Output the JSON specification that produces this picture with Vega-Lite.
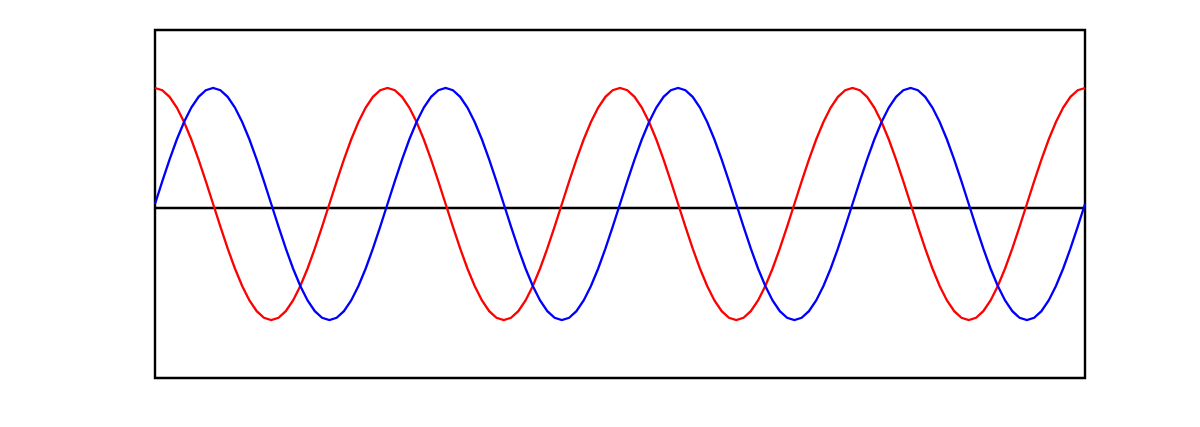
{
  "$schema": "https://vega.github.io/schema/vega-lite/v6.json",
  "width": 930,
  "height": 348,
  "autosize": {"type": "none"},
  "padding": {"left": 155, "top": 30, "right": 115, "bottom": 49},
  "background": "white",
  "config": {"view": {"stroke": "black", "strokeWidth": 2.4}},
  "datasets": {
    "waves": [
      {"k":0,"s":0,"c":1},{"k":1,"s":0.195,"c":0.981},{"k":2,"s":0.383,"c":0.924},{"k":3,"s":0.556,"c":0.831},{"k":4,"s":0.707,"c":0.707},{"k":5,"s":0.831,"c":0.556},{"k":6,"s":0.924,"c":0.383},{"k":7,"s":0.981,"c":0.195},
      {"k":8,"s":1,"c":0},{"k":9,"s":0.981,"c":-0.195},{"k":10,"s":0.924,"c":-0.383},{"k":11,"s":0.831,"c":-0.556},{"k":12,"s":0.707,"c":-0.707},{"k":13,"s":0.556,"c":-0.831},{"k":14,"s":0.383,"c":-0.924},{"k":15,"s":0.195,"c":-0.981},
      {"k":16,"s":0,"c":-1},{"k":17,"s":-0.195,"c":-0.981},{"k":18,"s":-0.383,"c":-0.924},{"k":19,"s":-0.556,"c":-0.831},{"k":20,"s":-0.707,"c":-0.707},{"k":21,"s":-0.831,"c":-0.556},{"k":22,"s":-0.924,"c":-0.383},{"k":23,"s":-0.981,"c":-0.195},
      {"k":24,"s":-1,"c":0},{"k":25,"s":-0.981,"c":0.195},{"k":26,"s":-0.924,"c":0.383},{"k":27,"s":-0.831,"c":0.556},{"k":28,"s":-0.707,"c":0.707},{"k":29,"s":-0.556,"c":0.831},{"k":30,"s":-0.383,"c":0.924},{"k":31,"s":-0.195,"c":0.981},
      {"k":32,"s":0,"c":1},{"k":33,"s":0.195,"c":0.981},{"k":34,"s":0.383,"c":0.924},{"k":35,"s":0.556,"c":0.831},{"k":36,"s":0.707,"c":0.707},{"k":37,"s":0.831,"c":0.556},{"k":38,"s":0.924,"c":0.383},{"k":39,"s":0.981,"c":0.195},
      {"k":40,"s":1,"c":0},{"k":41,"s":0.981,"c":-0.195},{"k":42,"s":0.924,"c":-0.383},{"k":43,"s":0.831,"c":-0.556},{"k":44,"s":0.707,"c":-0.707},{"k":45,"s":0.556,"c":-0.831},{"k":46,"s":0.383,"c":-0.924},{"k":47,"s":0.195,"c":-0.981},
      {"k":48,"s":0,"c":-1},{"k":49,"s":-0.195,"c":-0.981},{"k":50,"s":-0.383,"c":-0.924},{"k":51,"s":-0.556,"c":-0.831},{"k":52,"s":-0.707,"c":-0.707},{"k":53,"s":-0.831,"c":-0.556},{"k":54,"s":-0.924,"c":-0.383},{"k":55,"s":-0.981,"c":-0.195},
      {"k":56,"s":-1,"c":0},{"k":57,"s":-0.981,"c":0.195},{"k":58,"s":-0.924,"c":0.383},{"k":59,"s":-0.831,"c":0.556},{"k":60,"s":-0.707,"c":0.707},{"k":61,"s":-0.556,"c":0.831},{"k":62,"s":-0.383,"c":0.924},{"k":63,"s":-0.195,"c":0.981},
      {"k":64,"s":0,"c":1},{"k":65,"s":0.195,"c":0.981},{"k":66,"s":0.383,"c":0.924},{"k":67,"s":0.556,"c":0.831},{"k":68,"s":0.707,"c":0.707},{"k":69,"s":0.831,"c":0.556},{"k":70,"s":0.924,"c":0.383},{"k":71,"s":0.981,"c":0.195},
      {"k":72,"s":1,"c":0},{"k":73,"s":0.981,"c":-0.195},{"k":74,"s":0.924,"c":-0.383},{"k":75,"s":0.831,"c":-0.556},{"k":76,"s":0.707,"c":-0.707},{"k":77,"s":0.556,"c":-0.831},{"k":78,"s":0.383,"c":-0.924},{"k":79,"s":0.195,"c":-0.981},
      {"k":80,"s":0,"c":-1},{"k":81,"s":-0.195,"c":-0.981},{"k":82,"s":-0.383,"c":-0.924},{"k":83,"s":-0.556,"c":-0.831},{"k":84,"s":-0.707,"c":-0.707},{"k":85,"s":-0.831,"c":-0.556},{"k":86,"s":-0.924,"c":-0.383},{"k":87,"s":-0.981,"c":-0.195},
      {"k":88,"s":-1,"c":0},{"k":89,"s":-0.981,"c":0.195},{"k":90,"s":-0.924,"c":0.383},{"k":91,"s":-0.831,"c":0.556},{"k":92,"s":-0.707,"c":0.707},{"k":93,"s":-0.556,"c":0.831},{"k":94,"s":-0.383,"c":0.924},{"k":95,"s":-0.195,"c":0.981},
      {"k":96,"s":0,"c":1},{"k":97,"s":0.195,"c":0.981},{"k":98,"s":0.383,"c":0.924},{"k":99,"s":0.556,"c":0.831},{"k":100,"s":0.707,"c":0.707},{"k":101,"s":0.831,"c":0.556},{"k":102,"s":0.924,"c":0.383},{"k":103,"s":0.981,"c":0.195},
      {"k":104,"s":1,"c":0},{"k":105,"s":0.981,"c":-0.195},{"k":106,"s":0.924,"c":-0.383},{"k":107,"s":0.831,"c":-0.556},{"k":108,"s":0.707,"c":-0.707},{"k":109,"s":0.556,"c":-0.831},{"k":110,"s":0.383,"c":-0.924},{"k":111,"s":0.195,"c":-0.981},
      {"k":112,"s":0,"c":-1},{"k":113,"s":-0.195,"c":-0.981},{"k":114,"s":-0.383,"c":-0.924},{"k":115,"s":-0.556,"c":-0.831},{"k":116,"s":-0.707,"c":-0.707},{"k":117,"s":-0.831,"c":-0.556},{"k":118,"s":-0.924,"c":-0.383},{"k":119,"s":-0.981,"c":-0.195},
      {"k":120,"s":-1,"c":0},{"k":121,"s":-0.981,"c":0.195},{"k":122,"s":-0.924,"c":0.383},{"k":123,"s":-0.831,"c":0.556},{"k":124,"s":-0.707,"c":0.707},{"k":125,"s":-0.556,"c":0.831},{"k":126,"s":-0.383,"c":0.924},{"k":127,"s":-0.195,"c":0.981},
      {"k":128,"s":0,"c":1}
    ],
    "zero": [{"z": -0.035}]
  },
  "layer": [
    {
      "data": {"name": "zero"},
      "mark": {"type": "rule", "color": "black", "strokeWidth": 2.4},
      "encoding": {
        "y": {"field": "z", "type": "quantitative", "scale": {"domain": [-1.5, 1.5], "nice": false, "zero": false}, "axis": null}
      }
    },
    {
      "data": {"name": "waves"},
      "mark": {"type": "line", "color": "#ff0000", "strokeWidth": 2.3},
      "encoding": {
        "x": {"field": "k", "type": "quantitative", "scale": {"domain": [0, 128], "nice": false, "zero": false}, "axis": null},
        "y": {"field": "c", "type": "quantitative", "scale": {"domain": [-1.5, 1.5], "nice": false, "zero": false}, "axis": null}
      }
    },
    {
      "data": {"name": "waves"},
      "mark": {"type": "line", "color": "#0000ff", "strokeWidth": 2.3},
      "encoding": {
        "x": {"field": "k", "type": "quantitative", "scale": {"domain": [0, 128], "nice": false, "zero": false}, "axis": null},
        "y": {"field": "s", "type": "quantitative", "scale": {"domain": [-1.5, 1.5], "nice": false, "zero": false}, "axis": null}
      }
    }
  ]
}
